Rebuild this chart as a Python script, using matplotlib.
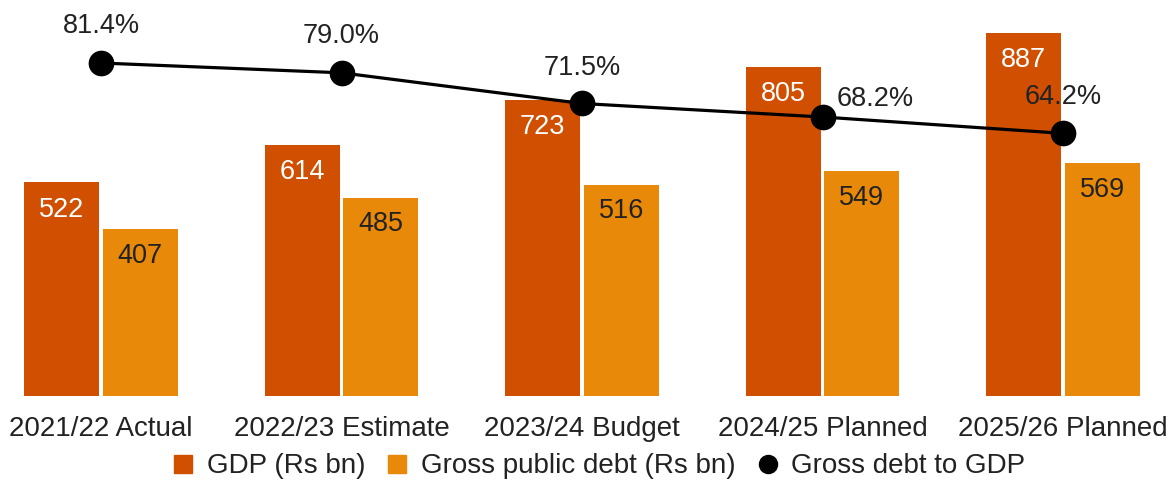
import matplotlib
matplotlib.use("Agg")
import matplotlib.pyplot as plt
from matplotlib.lines import Line2D
import numpy as np

plt.rcParams["font.family"] = ["Liberation Sans", "DejaVu Sans"]

# Data
categories = ["2021/22 Actual", "2022/23 Estimate", "2023/24 Budget",
              "2024/25 Planned", "2025/26 Planned"]
gdp = [522, 614, 723, 805, 887]
debt = [407, 485, 516, 549, 569]
debt_to_gdp = [81.4, 79.0, 71.5, 68.2, 64.2]

# Styling
GDP_COLOR = "#D04F00"
DEBT_COLOR = "#E8890A"
TEXT_COLOR = "#222222"
FS = 20
VAL_FS = 19.5
# per-point offsets (in points) for the ratio labels
ratio_label_offsets = [(0, 26.5), (0, 26.5), (0, 25.5), (38, 13), (0, 26.5)]

fig = plt.figure(figsize=(11.71, 4.91), dpi=100)
ax = fig.add_axes([0.0, 0.1935, 1.0, 0.8065])

x = np.arange(len(categories))
width = 0.312
off = 0.163

b1 = ax.bar(x - off, gdp, width, color=GDP_COLOR, zorder=2)
b2 = ax.bar(x + off, debt, width, color=DEBT_COLOR, zorder=2)

ymax = 968
ax.set_ylim(0, ymax)
ax.set_xlim(-0.42, 4.449)

for rect, v in zip(b1, gdp):
    ax.annotate(f"{v}", (rect.get_x() + rect.get_width() / 2, v),
                xytext=(0, -19.5), textcoords="offset points",
                ha="center", va="center", color="white", fontsize=VAL_FS, zorder=3)
for rect, v in zip(b2, debt):
    ax.annotate(f"{v}", (rect.get_x() + rect.get_width() / 2, v),
                xytext=(0, -19), textcoords="offset points",
                ha="center", va="center", color=TEXT_COLOR, fontsize=VAL_FS, zorder=3)

ax.set_xticks(x)
ax.set_xticklabels(categories, fontsize=FS, color=TEXT_COLOR)
ax.tick_params(axis="x", length=0, pad=14.5)
ax.set_yticks([])
for s in ax.spines.values():
    s.set_visible(False)

# Ratio line on a secondary scale
ax2 = ax.twinx()
ax2.set_ylim(0, ymax / 10)
ax2.plot(x, debt_to_gdp, color="black", linewidth=2.3, marker="o",
         markersize=17.5, zorder=4)
for xi, v, (dx, dy) in zip(x, debt_to_gdp, ratio_label_offsets):
    ax2.annotate(f"{v:.1f}%", (xi, v), xytext=(dx, dy), textcoords="offset points",
                 ha="center", va="center", color=TEXT_COLOR, fontsize=VAL_FS, zorder=5)
ax2.set_yticks([])
for s in ax2.spines.values():
    s.set_visible(False)

handles = [
    Line2D([], [], linestyle="none", marker="s", markersize=12.5,
           markerfacecolor=GDP_COLOR, markeredgecolor=GDP_COLOR),
    Line2D([], [], linestyle="none", marker="s", markersize=12.5,
           markerfacecolor=DEBT_COLOR, markeredgecolor=DEBT_COLOR),
    Line2D([], [], linestyle="none", marker="o", markersize=13,
           markerfacecolor="black", markeredgecolor="black"),
]
labels = ["GDP (Rs bn)", "Gross public debt (Rs bn)", "Gross debt to GDP"]
leg = fig.legend(handles, labels, loc="center", bbox_to_anchor=(0.512, 0.05),
                 ncol=3, frameon=False, fontsize=FS, handlelength=0.7,
                 handletextpad=0.5, columnspacing=0.8, borderpad=0)
for t in leg.get_texts():
    t.set_color(TEXT_COLOR)

fig.savefig("out.png", dpi=100)
